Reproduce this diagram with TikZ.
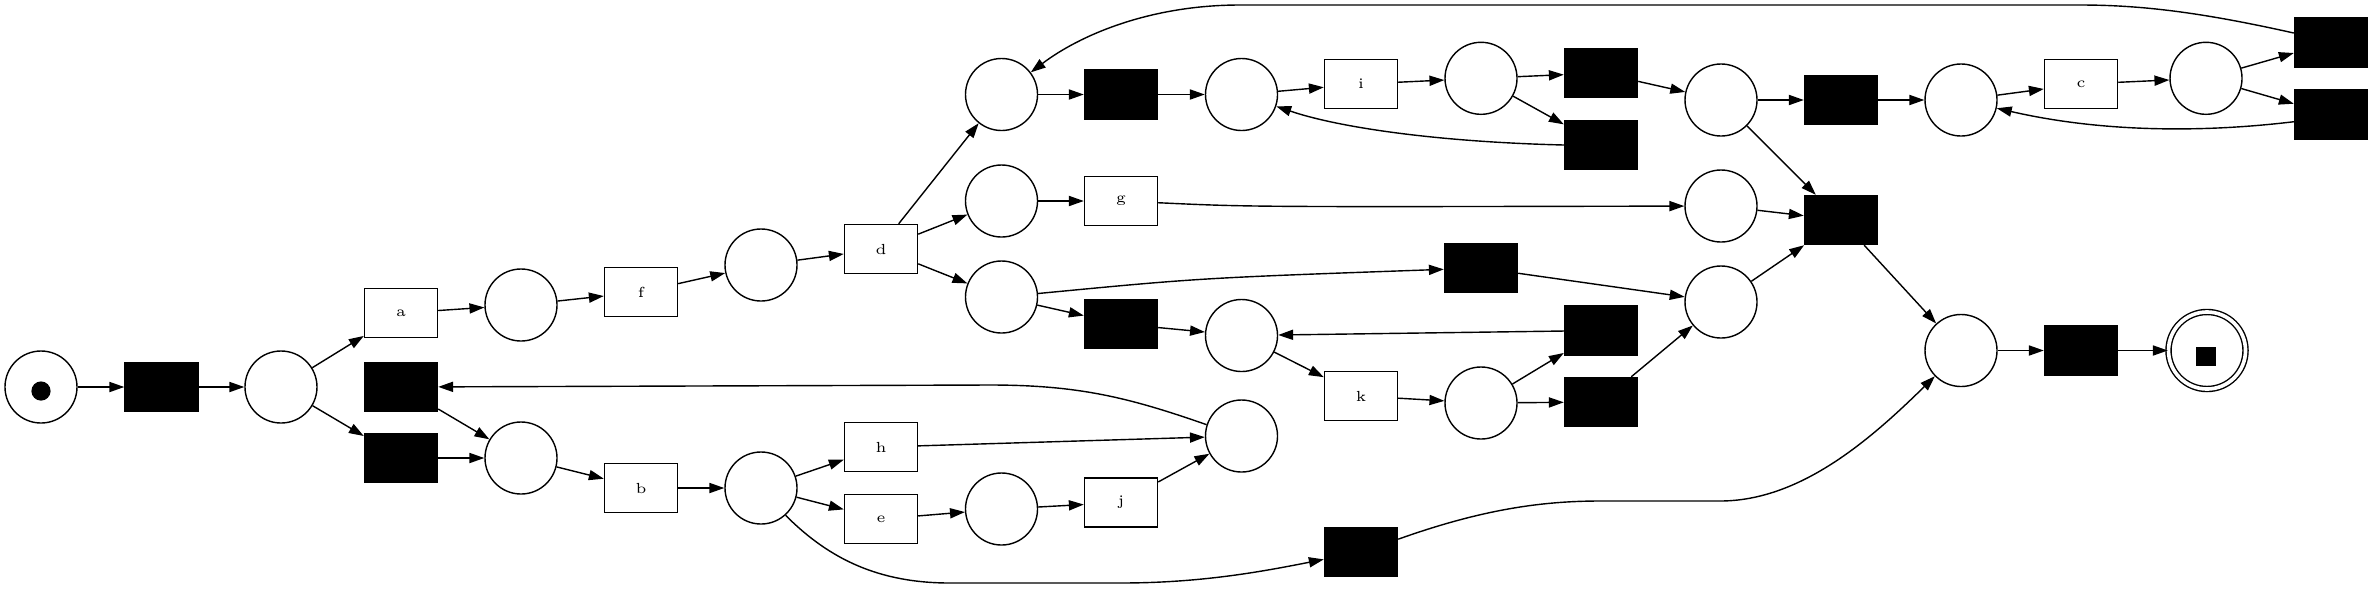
\documentclass[tikz,border=0pt]{standalone}
\usetikzlibrary{arrows.meta}
\begin{document}
\begin{tikzpicture}[x=0.0125cm,y=-0.0125cm,
  place/.style={circle,draw,line width=0.5pt,minimum size=0.9cm,inner sep=0pt},
  trans/.style={rectangle,draw,line width=0.5pt,minimum width=0.9125cm,minimum height=0.6125cm,inner sep=0pt,font=\fontsize{5.2}{6}\selectfont},
  silent/.style={trans,fill=black},
  finalplace/.style={circle,draw,line width=0.5pt,double,double distance=1.3pt,minimum size=0.9625cm,inner sep=0pt},
  arc/.style={line width=0.5pt,-{Triangle[length=5.3pt,width=3.6pt]}}]
\useasboundingbox (0,0) rectangle (2373,588);
% places
\node[place] (Ps) at (41,387) {};
\node[place] (P1) at (281,387) {};
\node[place] (Pa) at (521,305) {};
\node[place] (P2) at (521,458) {};
\node[place] (Pf) at (761,265) {};
\node[place] (Pb) at (761,488) {};
\node[place] (Ptop1) at (1001.5,94.5) {};
\node[place] (Pg) at (1001.5,201) {};
\node[place] (Pd3) at (1001.5,297) {};
\node[place] (Pe) at (1001.5,509) {};
\node[place] (Ptop2) at (1241.5,94.5) {};
\node[place] (Pk) at (1241.5,335.5) {};
\node[place] (Ph) at (1241.5,436) {};
\node[place] (Ptop3) at (1481,78.3) {};
\node[place] (Pko) at (1481,403) {};
\node[place] (Ptop4) at (1721,100) {};
\node[place] (Pgo) at (1721,206) {};
\node[place] (Pj2) at (1721,302) {};
\node[place] (Ptop5) at (1961,100) {};
\node[place] (Pend) at (1961,350.5) {};
\node[place] (Ptop6) at (2206,78.3) {};
\node[finalplace] (Pfin) at (2207,350.5) {};
% tokens
\fill (41,391) circle (0.12cm);
\fill (2196,347) rectangle (2216,366);
% transitions
\node[silent] (T1) at (161.5,387) {};
\node[trans] (a) at (401,313) {a};
\node[silent] (Tloop) at (401,387) {};
\node[silent] (Tskip) at (401,458) {};
\node[trans] (f) at (641,292) {f};
\node[trans] (b) at (641,488) {b};
\node[trans] (d) at (881,249) {d};
\node[trans] (h) at (881,447) {h};
\node[trans] (e) at (881,519) {e};
\node[silent] (Ttop1) at (1121,94.5) {};
\node[trans] (g) at (1121,201) {g};
\node[silent] (Tx) at (1121,324) {};
\node[trans] (j) at (1121,502.5) {j};
\node[trans] (i) at (1361,84) {i};
\node[trans] (k) at (1361,396) {k};
\node[silent] (Tbot) at (1361,552) {};
\node[silent] (Tmid) at (1481,268) {};
\node[silent] (T3a) at (1601,73) {};
\node[silent] (T3b) at (1601,145) {};
\node[silent] (Tk1) at (1601,330.5) {};
\node[silent] (Tk2) at (1601,402) {};
\node[silent] (Ttop4) at (1841,100) {};
\node[silent] (Tjoin) at (1841,220) {};
\node[trans] (c) at (2081,84) {c};
\node[silent] (Tend) at (2081,350.5) {};
\node[silent] (Tc1) at (2331,42.3) {};
\node[silent] (Tc2) at (2331,114.5) {};
% arcs
\draw[arc] (Ps) -- (T1);
\draw[arc] (T1) -- (P1);
\draw[arc] (P1) -- (a);
\draw[arc] (P1) -- (Tskip);
\draw[arc] (a) -- (Pa);
\draw[arc] (Pa) -- (f);
\draw[arc] (f) -- (Pf);
\draw[arc] (Pf) -- (d);
\draw[arc] (Tloop) -- (P2);
\draw[arc] (Tskip) -- (P2);
\draw[arc] (P2) -- (b);
\draw[arc] (b) -- (Pb);
\draw[arc] (Pb) -- (h);
\draw[arc] (Pb) -- (e);
\draw[arc] (Pb.-48) .. controls (830,560) and (880,583) .. (950,583) -- (1120,583) .. controls (1200,583) and (1260,572) .. (Tbot);
\draw[arc] (e) -- (Pe);
\draw[arc] (Pe) -- (j);
\draw[arc] (j) -- (Ph);
\draw[arc] (h) -- (Ph);
\draw[arc] (Ph.162) .. controls (1130,398) and (1080,385) .. (990,385) -- (Tloop);
\draw[arc] (d.55) -- (Ptop1);
\draw[arc] (d) -- (Pg);
\draw[arc] (Pg) -- (g);
\draw[arc] (d) -- (Pd3);
\draw[arc] (Ptop1) -- (Ttop1);
\draw[arc] (Ttop1) -- (Ptop2);
\draw[arc] (Ptop2) -- (i);
\draw[arc] (i) -- (Ptop3);
\draw[arc] (Ptop3) -- (T3a);
\draw[arc] (Ptop3) -- (T3b);
\draw[arc] (T3b.west) .. controls (1440,142) and (1340,128) .. (Ptop2);
\draw[arc] (T3a) -- (Ptop4);
\draw[arc] (Ptop4) -- (Ttop4);
\draw[arc] (Ttop4) -- (Ptop5);
\draw[arc] (Ptop5) -- (c);
\draw[arc] (c) -- (Ptop6);
\draw[arc] (Ptop6) -- (Tc1);
\draw[arc] (Ptop6) -- (Tc2);
\draw[arc] (Tc2.191) .. controls (2200,133) and (2100,132) .. (Ptop5);
\draw[arc] (Tc1.166) .. controls (2200,12) and (2140,5) .. (2080,5) -- (1240,5) .. controls (1150,5) and (1080,35) .. (Ptop1);
\draw[arc] (Ptop4) -- (Tjoin);
\draw[arc] (g) .. controls (1250,207) .. (Pgo);
\draw[arc] (Pgo) -- (Tjoin);
\draw[arc] (Pd3) .. controls (1200,278) .. (Tmid);
\draw[arc] (Pd3) -- (Tx);
\draw[arc] (Tmid) -- (Pj2);
\draw[arc] (Tx) -- (Pk);
\draw[arc] (Pk) -- (k);
\draw[arc] (k) -- (Pko);
\draw[arc] (Pko) -- (Tk1);
\draw[arc] (Pko) -- (Tk2);
\draw[arc] (Tk1) -- (Pk);
\draw[arc] (Tk2) -- (Pj2);
\draw[arc] (Pj2) -- (Tjoin);
\draw[arc] (Tjoin) -- (Pend);
\draw[arc] (Tbot.19) .. controls (1480,510) and (1540,501) .. (1600,501) -- (1720,501) .. controls (1800,501) and (1870,440) .. (Pend);
\draw[arc] (Pend) -- (Tend);
\draw[arc] (Tend) -- (Pfin);
\end{tikzpicture}
\end{document}
